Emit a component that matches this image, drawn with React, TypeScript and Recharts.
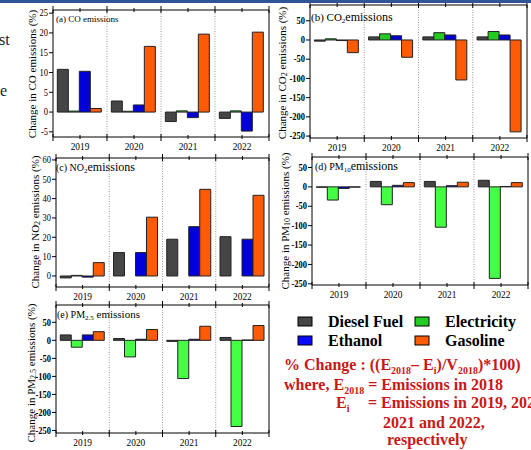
import React from "react";
import { BarChart, Bar, XAxis, YAxis, ReferenceLine } from "recharts";

const SERIF = '"Liberation Serif", "Times New Roman", serif';

const years = ["2019", "2020", "2021", "2022"];
const seriesNames = ["Diesel Fuel", "Electricity", "Ethanol", "Gasoline"];

// (a) CO
const coDiesel = [10.8, 2.8, -2.4, -1.6];
const coElectricity = [0.25, 0.2, 0.3, 0.3];
const coEthanol = [10.3, 1.8, -1.4, -4.8];
const coGasoline = [0.9, 16.6, 19.7, 20.2];

// (b) CO2
const co2Diesel = [-3, 8, 8, 8];
const co2Electricity = [3, 16, 19, 22];
const co2Ethanol = [-1.5, 11, 13, 13];
const co2Gasoline = [-33, -45, -104, -239];

// (c) NO2
const no2Diesel = [-1, 12.1, 19, 20.3];
const no2Electricity = [0.3, 0, 0, 0];
const no2Ethanol = [-0.6, 12.1, 25.5, 19];
const no2Gasoline = [6.9, 30.4, 44.8, 41.7];

// (d) PM10
const pm10Diesel = [-1, 14, 14, 17];
const pm10Electricity = [-34, -46, -104, -236];
const pm10Ethanol = [-4, 4, 3, 1];
const pm10Gasoline = [-0.6, 11, 12, 11];

// (e) PM2.5
const pm25Diesel = [15, 5, -3, 8];
const pm25Electricity = [-19, -46, -106, -239];
const pm25Ethanol = [15, 3, 3, 1];
const pm25Gasoline = [24, 30, 39, 41];

const yTicksCO = [-5, 0, 5, 10, 15, 20, 25];
const yTicksNO2 = [0, 10, 20, 30, 40, 50, 60];
const yTicksWide = [-250, -200, -150, -100, -50, 0, 50];

const DIESEL = "#454545";
const ETHANOL = "#0000d8";
const GASOLINE = "#ff5a05";
const GREEN_DARK = "#22cc22";
const GREEN_LIGHT = "#44ff44";
const RED = "#c81818";

// bottom axis tick: minor tick at the category centre, major ticks at the
// category boundaries, and the year label
const BottomTick = (props: any) => {
  const { x, y, payload, index, band, count } = props;
  const edges = [x - band / 2];
  if (index === count - 1) edges.push(x + band / 2);
  return (
    <g>
      <line x1={x} x2={x} y1={y - 2} y2={y + 2} stroke="#000" />
      {edges.map((ex) => (
        <line key={ex} x1={ex} x2={ex} y1={y - 3} y2={y + 4} stroke="#000" />
      ))}
      <text
        transform={`translate(${x},${y + 5}) scale(0.85,1)`}
        textAnchor="middle"
        dy="0.71em"
        fontSize={11}
        fontFamily={SERIF}
        fill="#000"
      >
        {payload.value}
      </text>
    </g>
  );
};

const TopTick = (props: any) => {
  const { x, y, index, band, count } = props;
  const edges = [x - band / 2];
  if (index === count - 1) edges.push(x + band / 2);
  return (
    <g>
      <line x1={x} x2={x} y1={y + 2} y2={y - 2} stroke="#000" />
      {edges.map((ex) => (
        <line key={ex} x1={ex} x2={ex} y1={y + 3} y2={y - 4} stroke="#000" />
      ))}
    </g>
  );
};

const LeftTick = (props: any) => {
  const { x, y, payload, bold } = props;
  return (
    <text
      transform={`translate(${x},${y}) scale(0.85,1)`}
      textAnchor="end"
      dominantBaseline="central"
      fontSize={10}
      fontWeight={bold ? "bold" : "normal"}
      fontFamily={SERIF}
      fill="#000"
    >
      {payload.value}
    </text>
  );
};

type PanelProps = {
  left: number;
  right: number;
  top: number;
  bottom: number;
  domain: [number, number];
  ticks: number[];
  diesel: number[];
  electricity: number[];
  ethanol: number[];
  gasoline: number[];
  elecColor: string;
  boldTicks?: boolean;
};

function Panel(p: PanelProps) {
  const L = 40, R = 10, T = 8, B = 20;
  const data = years.map((year, i) => ({
    year,
    diesel: p.diesel[i],
    electricity: p.electricity[i],
    ethanol: p.ethanol[i],
    gasoline: p.gasoline[i],
  }));
  const plotW = p.right - p.left;
  const band = plotW / years.length;
  const w = plotW + L + R;
  const h = p.bottom - p.top + T + B;
  const barStroke = { stroke: "#222", strokeWidth: 1 };
  return (
    <div style={{ position: "absolute", left: p.left - L, top: p.top - T }}>
      <BarChart
        width={w}
        height={h}
        data={data}
        margin={{ top: 0, right: 0, bottom: 0, left: 0 }}
        barCategoryGap="8%"
        barGap={0}
      >
        <XAxis xAxisId="cat" dataKey="year" type="category" height={B} tickLine={false}
          tickSize={0} tickMargin={0} interval={0} stroke="#000"
          tick={(tp: any) => <BottomTick {...tp} band={band} count={years.length} />} />
        <XAxis xAxisId="top" orientation="top" dataKey="year" type="category" height={T}
          tickLine={false} tickSize={0} tickMargin={0} interval={0} stroke="#000"
          tick={(tp: any) => <TopTick {...tp} band={band} count={years.length} />} />
        <YAxis yAxisId="l" width={L} domain={p.domain} ticks={p.ticks} tickSize={4} tickMargin={1}
          interval={0} allowDataOverflow stroke="#000"
          tick={(tp: any) => <LeftTick {...tp} bold={p.boldTicks} />} />
        <YAxis yAxisId="r" orientation="right" width={R} domain={p.domain} ticks={p.ticks}
          tick={false} tickSize={4} interval={0} allowDataOverflow stroke="#000" />
        {years.slice(1).map((yr) => (
          <ReferenceLine key={yr} xAxisId="cat" yAxisId="l" x={yr} position="start"
            stroke="#999" strokeDasharray="1 1.5" />
        ))}
        <Bar xAxisId="cat" yAxisId="l" dataKey="diesel" name={seriesNames[0]} fill={DIESEL} {...barStroke} isAnimationActive={false} />
        <Bar xAxisId="cat" yAxisId="l" dataKey="electricity" name={seriesNames[1]} fill={p.elecColor} {...barStroke} isAnimationActive={false} />
        <Bar xAxisId="cat" yAxisId="l" dataKey="ethanol" name={seriesNames[2]} fill={ETHANOL} {...barStroke} isAnimationActive={false} />
        <Bar xAxisId="cat" yAxisId="l" dataKey="gasoline" name={seriesNames[3]} fill={GASOLINE} {...barStroke} isAnimationActive={false} />
      </BarChart>
    </div>
  );
}

function YLabel({ x, y, pre, subText, post }: { x: number; y: number; pre: string; subText?: string; post: string }) {
  return (
    <text transform={`translate(${x},${y}) rotate(-90)`} textAnchor="middle" dominantBaseline="central"
      fontSize={11} fontFamily={SERIF} fill="#000">
      {pre}
      {subText ? <tspan dy={2} fontSize={8}>{subText}</tspan> : null}
      <tspan dy={subText ? -2 : 0}>{post}</tspan>
    </text>
  );
}

function Title({ x, y, pre, subText, post, preSize, postSize }: { x: number; y: number; pre: string; subText: string; post: string; preSize: number; postSize: number }) {
  return (
    <text x={x} y={y} fontFamily={SERIF} fill="#000">
      <tspan fontSize={preSize}>{pre}</tspan>
      <tspan fontSize={7} dy={2}>{subText}</tspan>
      <tspan fontSize={postSize} dy={-2}>{post}</tspan>
    </text>
  );
}

export default function App() {
  const legendItems = [
    { name: seriesNames[0], color: DIESEL, x: 298, y: 317 },
    { name: seriesNames[1], color: GREEN_DARK, x: 415, y: 317 },
    { name: seriesNames[2], color: "#0a0aff", x: 298, y: 336 },
    { name: seriesNames[3], color: GASOLINE, x: 415, y: 336 },
  ];
  return (
    <div style={{ position: "absolute", left: 0, top: 0, width: 531, height: 450, overflow: "hidden", background: "#fff" }}>
      <Panel left={53} right={269} top={10} bottom={137} domain={[-6.3, 25.8]} ticks={yTicksCO}
        diesel={coDiesel} electricity={coElectricity} ethanol={coEthanol} gasoline={coGasoline} elecColor={GREEN_DARK} />
      <Panel left={310} right={527} top={5} bottom={138} domain={[-255, 91]} ticks={yTicksWide}
        diesel={co2Diesel} electricity={co2Electricity} ethanol={co2Ethanol} gasoline={co2Gasoline} elecColor={GREEN_DARK} boldTicks />
      <Panel left={56} right={269} top={158} bottom={287} domain={[-5.7, 61]} ticks={yTicksNO2}
        diesel={no2Diesel} electricity={no2Electricity} ethanol={no2Ethanol} gasoline={no2Gasoline} elecColor={GREEN_DARK} />
      <Panel left={312} right={528} top={157} bottom={285} domain={[-253, 77]} ticks={yTicksWide}
        diesel={pm10Diesel} electricity={pm10Electricity} ethanol={pm10Ethanol} gasoline={pm10Gasoline} elecColor={GREEN_LIGHT} boldTicks />
      <Panel left={56} right={269} top={305} bottom={433} domain={[-257, 98]} ticks={yTicksWide}
        diesel={pm25Diesel} electricity={pm25Electricity} ethanol={pm25Ethanol} gasoline={pm25Gasoline} elecColor={GREEN_LIGHT} boldTicks />

      <svg width={531} height={450} style={{ position: "absolute", left: 0, top: 0, pointerEvents: "none" }}>
        <rect x={0} y={0} width={531} height={3} fill="#2e5597" />
        <text x={-1} y={45} fontSize={16} fontFamily={SERIF} fill="#222">st</text>
        <text x={0} y={96} fontSize={16} fontFamily={SERIF} fill="#222">e</text>

        <text x={56} y={22} fontSize={9} fontFamily={SERIF} fill="#000">(a) CO emissions</text>
        <Title x={311} y={21} pre="(b) CO" subText="2" post="emissions" preSize={11} postSize={12} />
        <Title x={56} y={171} pre="(c) NO" subText="2" post="emissions" preSize={10} postSize={12} />
        <Title x={315} y={170} pre="(d) PM" subText="10" post="emissions" preSize={10} postSize={12} />
        <Title x={57} y={318} pre="(e) PM" subText="2.5" post=" emissions" preSize={10} postSize={11} />

        <YLabel x={32} y={74} pre="Change in CO emissions (%)" post="" />
        <YLabel x={282} y={73} pre="Change in CO" subText="2" post=" emissions (%)" />
        <YLabel x={35} y={222} pre="Change in NO" subText="2" post=" emissions (%)" />
        <YLabel x={285} y={221} pre="Change in PM" subText="10" post=" emissions (%)" />
        <YLabel x={31} y={373} pre="Change in PM" subText="2.5" post=" emissions (%)" />

        {legendItems.map((it) => (
          <g key={it.name}>
            <rect x={it.x} y={it.y} width={14} height={9} fill={it.color} stroke="#000" strokeWidth={1} />
            <text x={it.x + 30} y={it.y + 10} fontSize={16} fontWeight="bold" fontFamily={SERIF} fill="#000">{it.name}</text>
          </g>
        ))}

        <g fontFamily={SERIF} fontWeight="bold" fill={RED} fontSize={16}>
          <text x={284} y={370}>
            % Change : ((E<tspan fontSize={10} dy={4}>2018</tspan><tspan dy={-4}>– E</tspan>
            <tspan fontSize={10} dy={4}>i</tspan><tspan dy={-4}>)/V</tspan>
            <tspan fontSize={10} dy={4}>2018</tspan><tspan dy={-4}>)*100)</tspan>
          </text>
          <text x={284} y={390}>
            where, E<tspan fontSize={10} dy={4}>2018</tspan><tspan dy={-4}> = Emissions in 2018</tspan>
          </text>
          <text x={336} y={408}>
            E<tspan fontSize={10} dy={4}>i</tspan>
          </text>
          <text x={368} y={408}>= Emissions in 2019, 2020,</text>
          <text x={383} y={428}>2021 and 2022,</text>
          <text x={387} y={445}>respectively</text>
        </g>
      </svg>
    </div>
  );
}
